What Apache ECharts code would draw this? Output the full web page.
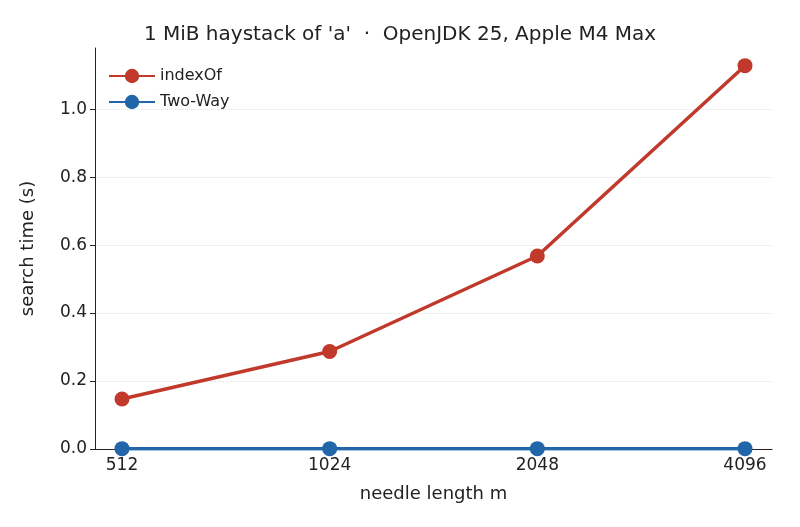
<!DOCTYPE html>
<html><head><meta charset="utf-8">
<script src="https://cdn.jsdelivr.net/npm/echarts@6/dist/echarts.min.js"></script>
<style>html,body{margin:0;background:#fff}#c{width:800px;height:527px}</style>
</head><body><div id="c"></div>
<script>
const categories = ['512','1024','2048','4096'];
const indexOf = [0.147, 0.287, 0.568, 1.128];
const twoWay = [0.001, 0.001, 0.001, 0.001];
const yTicks = [0, 0.2, 0.4, 0.6, 0.8, 1.0];
const font = 'DejaVu Sans';
const chart = echarts.init(document.getElementById('c'));
const mk = arr => arr.map((v,i)=>[i,v]);
chart.setOption({
  animation:false,
  textStyle:{fontFamily:font},
  title:{text:"1 MiB haystack of 'a'  ·  OpenJDK 25, Apple M4 Max",left:'center',top:20,
    textStyle:{fontFamily:font,fontSize:20,fontWeight:'normal',color:'#222'}},
  legend:{left:103,top:63,orient:'vertical',itemGap:10,itemWidth:46,itemHeight:18,
    textStyle:{fontFamily:font,fontSize:16,color:'#222'},
    data:['indexOf','Two-Way']},
  grid:{left:95,right:28,top:48,bottom:78},
  xAxis:{type:'value',min:-0.13,max:3.13,name:'needle length m',nameLocation:'middle',nameGap:36,
    nameTextStyle:{fontSize:18,color:'#222'},
    axisLine:{onZero:false,lineStyle:{color:'#222'}},splitLine:{show:false},
    axisTick:{customValues:[0,1,2,3],length:5,lineStyle:{color:'#222'}},
    axisLabel:{customValues:[0,1,2,3],formatter:v=>categories[Math.round(v)],fontSize:17,color:'#222',margin:8}},
  yAxis:{type:'value',min:0,max:1.18,name:'search time (s)',nameLocation:'middle',nameGap:58,
    nameTextStyle:{fontSize:18,color:'#222'},
    axisLine:{show:true,onZero:false,lineStyle:{color:'#222'}},
    axisTick:{show:true,customValues:yTicks,length:5,lineStyle:{color:'#222'}},
    axisLabel:{customValues:yTicks,formatter:v=>v.toFixed(1),fontSize:17,color:'#222'},
    splitLine:{show:true,lineStyle:{type:'dotted',color:'#e4e4e4'}}},
  series:[
    {name:'indexOf',type:'line',data:mk(indexOf),symbol:'circle',symbolSize:15,
      lineStyle:{width:3.5,color:'#c0392b'},itemStyle:{color:'#c0392b'}},
    {name:'Two-Way',type:'line',data:mk(twoWay),symbol:'circle',symbolSize:15,
      lineStyle:{width:3.5,color:'#2166a8'},itemStyle:{color:'#2166a8'}}
  ]
});
</script></body></html>
